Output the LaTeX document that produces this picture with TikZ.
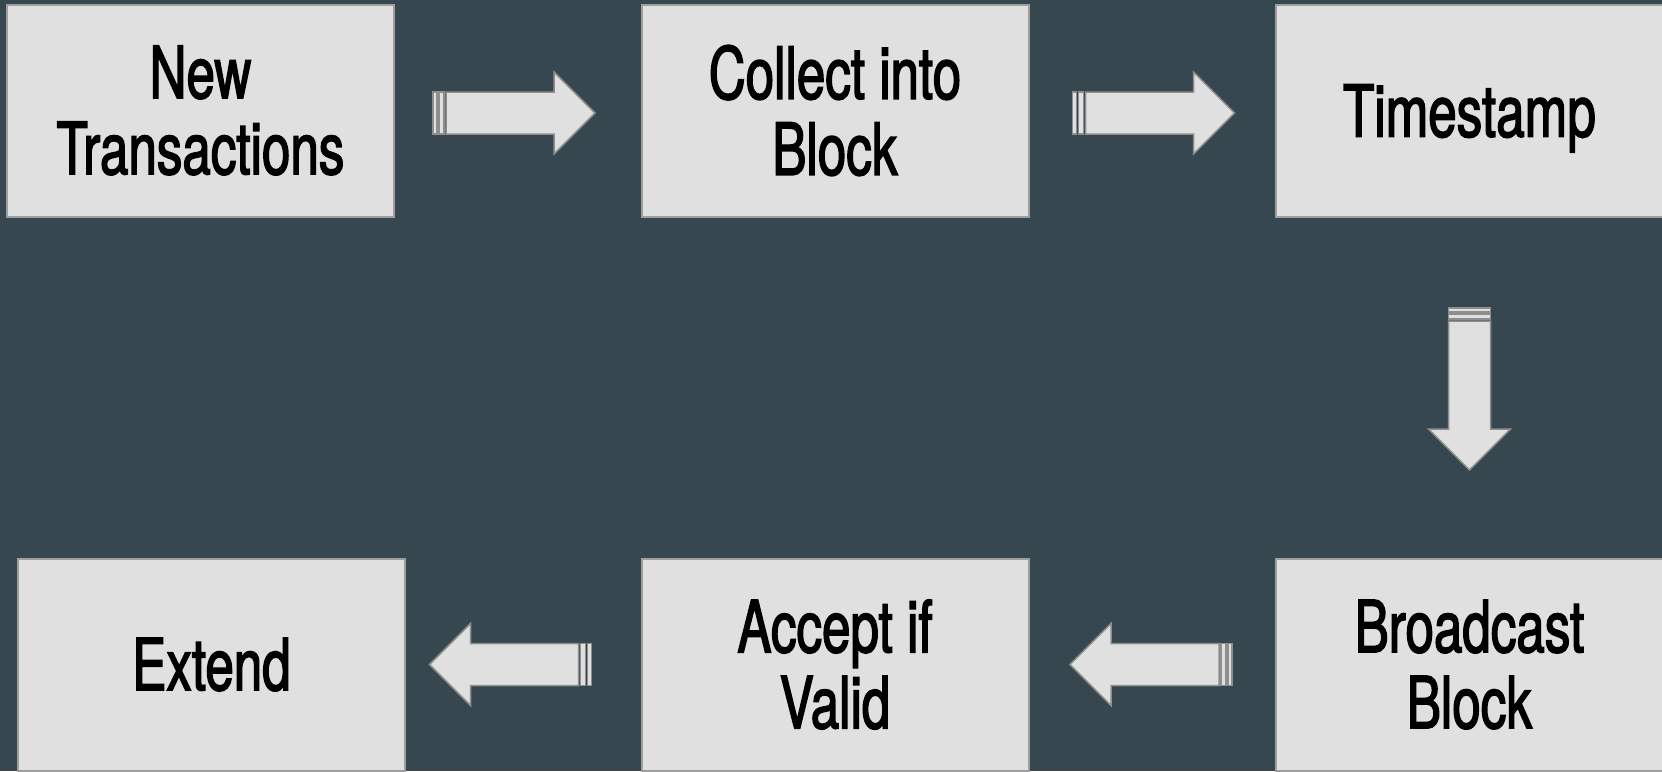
\documentclass[tikz,border=0pt]{standalone}
\usepackage{fontspec}
\newfontfamily\labelfont{TeX Gyre Heros}[FakeStretch=0.71, FakeBold=2]
\usetikzlibrary{calc}

\definecolor{slatebg}{HTML}{37474F}
\definecolor{boxfill}{HTML}{E0E0E0}
\definecolor{boxline}{HTML}{9E9E9E}
\definecolor{arrowline}{HTML}{8E8E8E}

\tikzset{
  stage/.style={draw=boxline, line width=2pt, fill=boxfill,
    minimum width=387pt, minimum height=212pt, inner sep=0pt,
    align=center, text=black,
    font=\labelfont\fontsize{72}{76}\selectfont},
  arrowpart/.style={draw=arrowline, line width=1.5pt, fill=boxfill, line join=miter},
  blockarrow/.pic={
    \filldraw[arrowpart] (0,-21) rectangle (4,21);
    \filldraw[arrowpart] (6,-21) rectangle (11,21);
    \filldraw[arrowpart] (13,-21) -- (121,-21) -- (121,-41) -- (162,0)
      -- (121,41) -- (121,21) -- (13,21) -- cycle;
  }
}

\begin{document}
\begin{tikzpicture}[x=1pt, y=-1pt]
  \useasboundingbox (0,0) rectangle (1662,771);
  \fill[slatebg] (0,0) rectangle (1662,771);
  \clip (0,0) rectangle (1662,771);

  % process stages
  \node[stage] (n1) at (200.5,110.5) {New\\Transactions};
  \node[stage] (n2) at (835,110.5) {Collect into\\Block};
  \node[stage, text depth=0pt] (n3) at (1469.5,110.5) {Timestamp};
  \node[stage] (n4) at (1469.5,664.5) {Broadcast\\Block};
  \node[stage] (n5) at (835,664.5) {Accept if\\Valid};
  \node[stage] (n6) at (211.5,664.5) {Extend};

  % block arrows between stages
  \pic at ($(n1.east)+(38,2.5)$) {blockarrow};
  \pic at ($(n2.east)+(43,2.5)$) {blockarrow};
  \pic[rotate=-90] at ($(n3.south)+(0,90.5)$) {blockarrow};
  \pic[rotate=180] at ($(n4.west)+(-43,0)$) {blockarrow};
  \pic[rotate=180] at ($(n5.west)+(-49,0)$) {blockarrow};
\end{tikzpicture}
\end{document}
